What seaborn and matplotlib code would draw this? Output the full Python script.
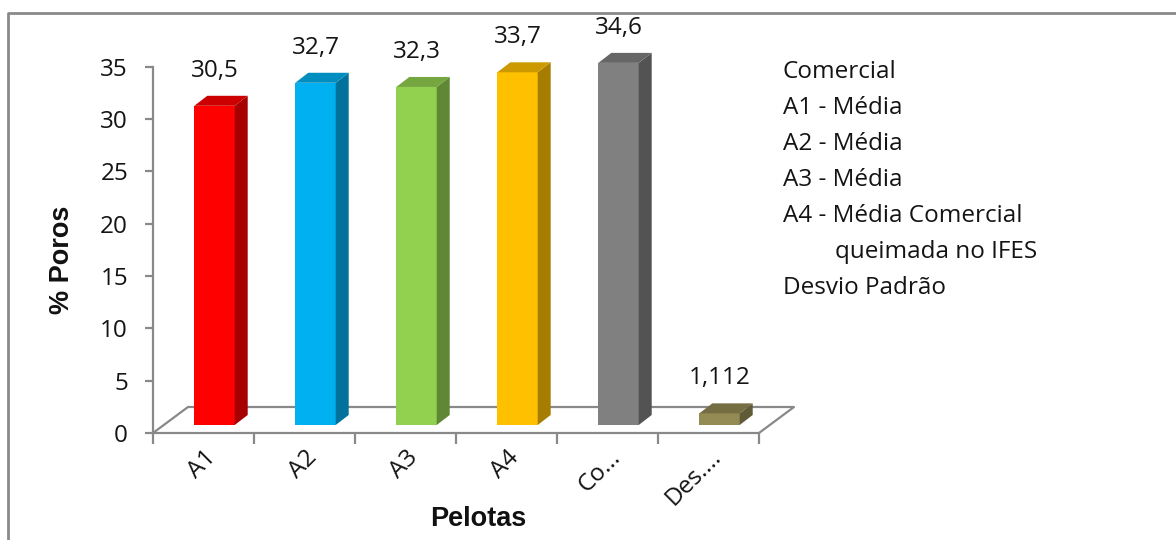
import matplotlib
matplotlib.use("Agg")
import matplotlib.pyplot as plt
import matplotlib.colors as mcolors
from matplotlib.transforms import ScaledTranslation
from matplotlib.patches import Polygon
from matplotlib.lines import Line2D
import seaborn as sns

# ---- data ----
categories = ["A1", "A2", "A3", "A4", "Co...", "Des...."]
values = [30.5, 32.7, 32.3, 33.7, 34.6, 1.112]
value_labels = ["30,5", "32,7", "32,3", "33,7", "34,6", "1,112"]
bar_colors = ["#FF0000", "#00B0F0", "#92D050", "#FFC000", "#808080", "#948A54"]
series_names = ["Comercial", "A1 - Média", "A2 - Média", "A3 - Média",
                "A4 - Média Comercial\nqueimada no IFES", "Desvio Padrão"]
y_ticks = [0, 5, 10, 15, 20, 25, 30, 35]

sns.set_theme(style="white")
plt.rcParams["font.family"] = ["Open Sans", "DejaVu Sans"]

W, H, DPI = 1176, 540, 100
FS = 17.5
TXT = "#141414"
fig = plt.figure(figsize=(W / DPI, H / DPI), dpi=DPI)
fig.patch.set_facecolor("white")

AX_GRAY = "#898989"
ax = fig.add_axes([153 / W, (H - 433) / H, (759 - 153) / W, (433 - 66.7) / H])
ax.set_facecolor("none")

sns.barplot(x=categories, y=values, hue=categories, palette=bar_colors,
            width=0.4, saturation=1, legend=False, ax=ax, linewidth=0)

ax.set_xlim(-0.5, len(categories) - 0.5)
ax.set_ylim(0, 35)
ax.set_yticks(y_ticks)
ax.set_yticklabels([str(t) for t in y_ticks])

# pixel sizes of one data unit on each axis
fig.canvas.draw()
p0 = ax.transData.transform((0, 0))
ppx = ax.transData.transform((1, 0))[0] - p0[0]
ppy = ax.transData.transform((0, 1))[1] - p0[1]

# 3D floor drawn behind the bars
fdx, fdy = 35 / ppx, 26 / ppy
xl, xr = -0.5, len(categories) - 0.5
floor = [(xl, 0), (xl + fdx, fdy), (xr + fdx, fdy), (xr, 0)]
ax.add_line(Line2D([p[0] for p in floor], [p[1] for p in floor],
                   color=AX_GRAY, lw=1.6, clip_on=False, zorder=1))

# bars sit a little back on the floor
shift = ax.transData + ScaledTranslation(11 / DPI, 8 / DPI, fig.dpi_scale_trans)
ddx, ddy = 13 / ppx, 10 / ppy

def shade(c, f):
    r, g, b = mcolors.to_rgb(c)
    return (r * f, g * f, b * f)

bars = [p for p in ax.patches]
for bar, col, lab in zip(bars, bar_colors, value_labels):
    bar.set_transform(shift)
    bar.set_clip_on(False)
    bar.set_zorder(3)
    x0 = bar.get_x()
    x1 = x0 + bar.get_width()
    h = bar.get_height()
    side = Polygon([(x1, 0), (x1 + ddx, ddy), (x1 + ddx, h + ddy), (x1, h)],
                   closed=True, facecolor=shade(col, 0.65), edgecolor="none",
                   transform=shift, clip_on=False, zorder=3)
    top = Polygon([(x0, h), (x1, h), (x1 + ddx, h + ddy), (x0 + ddx, h + ddy)],
                  closed=True, facecolor=shade(col, 0.8), edgecolor="none",
                  transform=shift, clip_on=False, zorder=3)
    ax.add_patch(side)
    ax.add_patch(top)
    lab_tr = ax.transData + ScaledTranslation(11 / DPI, (8 + 35) / DPI, fig.dpi_scale_trans)
    ax.text((x0 + x1) / 2, h, lab, transform=lab_tr, ha="center", va="center",
            fontsize=FS, color=TXT, zorder=5)

# axes styling
for s in ["top", "right"]:
    ax.spines[s].set_visible(False)
for s in ["left", "bottom"]:
    ax.spines[s].set_color(AX_GRAY)
    ax.spines[s].set_linewidth(1.6)

ax.tick_params(axis="y", direction="out", length=6, width=1.6, color=AX_GRAY,
               pad=12, labelsize=FS, labelcolor=TXT, left=True)

bounds = [i - 0.5 for i in range(len(categories) + 1)]
ax.set_xticks(bounds)
ax.set_xticklabels([""] * len(bounds))
ax.tick_params(axis="x", which="major", direction="out", length=8, width=1.6,
               color=AX_GRAY, bottom=True)
ax.set_xticks(range(len(categories)), minor=True)
ax.set_xticklabels(categories, minor=True, rotation=45, ha="right",
                   rotation_mode="anchor", fontsize=FS, color=TXT)
ax.tick_params(axis="x", which="minor", length=0, pad=15)
for t in ax.get_xticklabels(minor=True):
    t.set_transform(t.get_transform() + ScaledTranslation(9 / DPI, 0, fig.dpi_scale_trans))
    t.set_va("center")

ax.set_xlabel("")
ax.set_ylabel("")
fig.text(478 / W, 1 - 519 / H, "Pelotas", ha="center", va="center",
         fontsize=19.5, fontweight="bold", family=["Liberation Sans"], color="#111111")
fig.text(62 / W, 1 - 260 / H, "% Poros", ha="center", va="center", rotation=90,
         fontsize=19.5, fontweight="bold", family=["Liberation Sans"], color="#111111")

# series list on the right
line_y = 72
for name in series_names:
    for j, part in enumerate(name.split("\n")):
        fig.text((783 + (52 if j else 0)) / W, 1 - line_y / H, part,
                 ha="left", va="center", fontsize=FS, color=TXT)
        line_y += 36

# chart area frame
fig.add_artist(Line2D([8 / W, 8 / W, 1.0], [0.0, 1 - 13 / H, 1 - 13 / H],
                      transform=fig.transFigure, color="#8a8a8a", lw=2))

fig.savefig("out.png", dpi=DPI)
